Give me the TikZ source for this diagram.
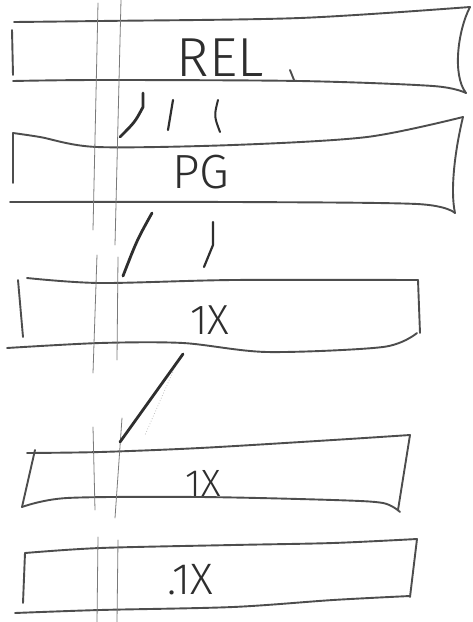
\documentclass[tikz,border=0pt]{standalone}
\usepackage{fontspec}
\usepackage{xcolor}
\newfontfamily\sketchfont{Fira Sans Light}
\definecolor{pencil}{HTML}{2E2E2E}
\definecolor{guideGray}{HTML}{7A7A7A}
\definecolor{faintGray}{HTML}{C4C4C4}

\begin{document}
\begin{tikzpicture}[
    x=1pt, y=-1pt,
    band/.style={draw=pencil!85, line width=1.9pt, line cap=round, line join=round},
    guide/.style={draw=guideGray, line width=0.8pt, line cap=round},
    tick/.style={draw=pencil, line width=2.8pt, line cap=round},
    hand/.style={font=\sketchfont\fontsize{#1}{#1}\selectfont, text=pencil, inner sep=0pt}
  ]
  \fill[white] (0,0) rectangle (472,622);
  \useasboundingbox (0,0) rectangle (472,622);

  % bands
  \draw[band] plot[smooth] coordinates {(14,22) (100,21) (300,18) (470,7)};
  \draw[band] (12,30) -- (13,75);
  \draw[band] plot[smooth] coordinates {(13,81) (100,80) (300,81) (433,86) (466,93)};
  \draw[band] (470,7) .. controls (458,30) and (452,75) .. (466,93);

  \draw[band] plot[smooth] coordinates {(13,133) (40,137) (97,147) (233,145) (367,137) (463,117)};
  \draw[band] (13,133) -- (13,183);
  \draw[band] plot[smooth] coordinates {(10,202) (233,202) (417,204) (455,213)};
  \draw[band] (463,117) .. controls (455,150) and (450,190) .. (455,213);

  \draw[band] plot[smooth] coordinates {(27,278) (100,283) (233,280) (418,280)};
  \draw[band] (18,280) -- (23,337);
  \draw[band] plot[smooth] coordinates {(7,348) (100,343) (183,343) (267,352) (383,347) (417,333)};
  \draw[band] (418,280) -- (420,333);

  \draw[band] plot[smooth] coordinates {(27,453) (100,452) (200,448) (333,440) (410,435)};
  \draw[band] (35,450) -- (22,507);
  \draw[band] plot[smooth] coordinates {(22,507) (67,498) (200,497) (333,500) (383,503) (400,512)};
  \draw[band] (410,435) -- (398,510);

  \draw[band] plot[smooth] coordinates {(25,553) (100,548) (233,545) (333,543) (417,539)};
  \draw[band] (25,553) -- (23,603);
  \draw[band] plot[smooth] coordinates {(15,613) (100,610) (233,607) (333,600) (410,596)};
  \draw[band] (417,539) -- (410,597);

  % guides
  \draw[guide] (98,3) -- (93,230);
  \draw[guide] (97,255) -- (93,373);
  \draw[guide] (93,427) -- (95,510);
  \draw[guide] (98,537) -- (97,622);
  \draw[guide] (121,0) -- (115,245);
  \draw[guide] (118,257) -- (117,360);
  \draw[guide] (122,418) -- (115,518);
  \draw[guide] (118,540) -- (117,622);

  % labels
  \node[hand=55] (rel) at (220,58)  {REL};
  \node[hand=48] (pg)  at (201,172) {PG};
  \node[hand=42] (ixa) at (210,320) {1X};
  \node[hand=38] (ixb) at (203,483) {1X};
  \node[hand=44] (ixc) at (190,580) {.1X};

  \draw[band] (290,70) -- (294,80);
  \draw[tick] (143,93) -- (143,107) .. controls (135,122) .. (120,137);
  \draw[tick, line width=2.2pt] (173,100) .. controls (170,115) .. (168,130);
  \draw[tick, line width=2pt] (218,100) .. controls (214,116) .. (220,132);
  \draw[tick] (152,213) .. controls (137,240) .. (123,276);
  \draw[tick, line width=2.2pt] (213,222) -- (213,245) -- (204,267);
  \draw[faintGray, line width=0.8pt, dotted] (175,367) -- (145,435);
  \draw[tick] (183,354) -- (120,442);
\end{tikzpicture}
\end{document}
